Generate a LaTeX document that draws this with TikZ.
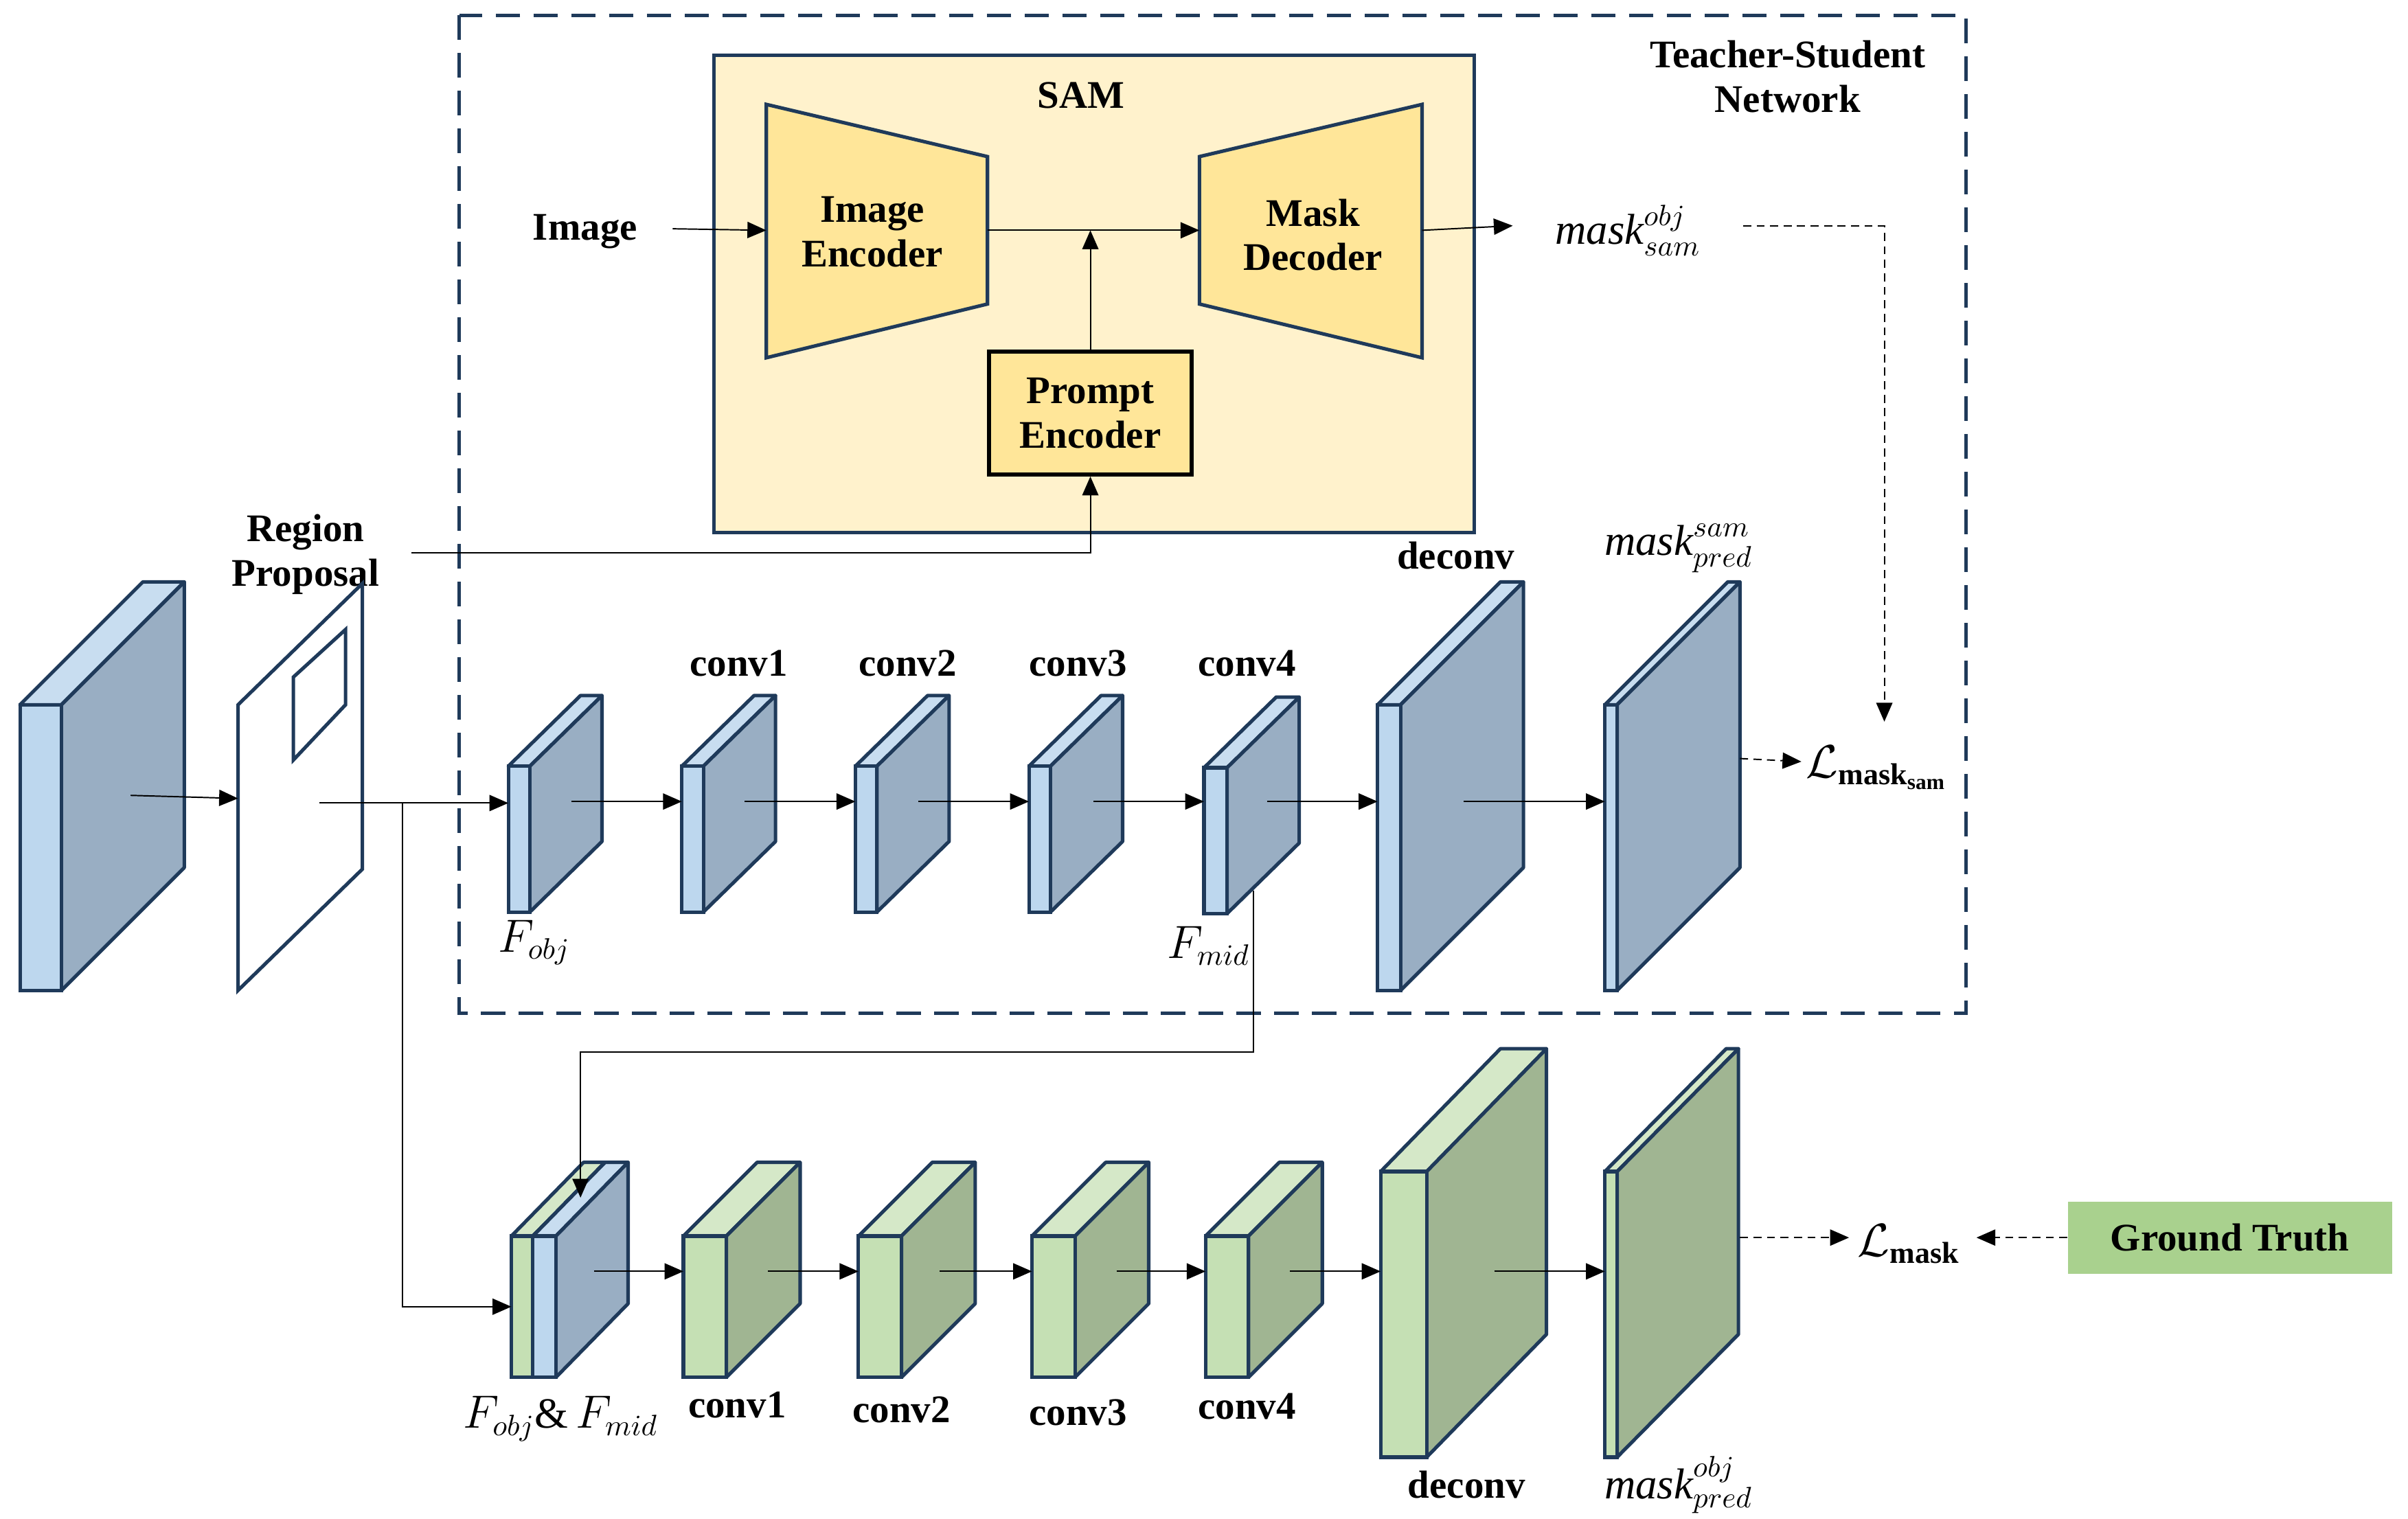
\documentclass[tikz,border=0pt]{standalone}
\usepackage{fontspec}
\setmainfont{Liberation Serif}
\usetikzlibrary{arrows.meta}
\definecolor{nv}{HTML}{1F3A5A}
\definecolor{bF}{HTML}{BDD7EE}\definecolor{bT}{HTML}{C8DDF0}\definecolor{bS}{HTML}{99AEC3}
\definecolor{gF}{HTML}{C5E0B4}\definecolor{gT}{HTML}{D5E8C8}\definecolor{gS}{HTML}{A0B592}
\definecolor{samF}{HTML}{FFF2CC}\definecolor{encF}{HTML}{FFE699}\definecolor{gtF}{HTML}{A9D18E}
\newcommand\myslab[9]{%
 \draw[nv,line width=1.3pt,fill=#8,line join=round] (#1,#2)--(#1+#3,#2)--(#1+#3+#5,#2-#6)--(#1+#5,#2-#6)--cycle;
 \draw[nv,line width=1.3pt,fill=#9,line join=round] (#1+#3,#2)--(#1+#3+#5,#2-#6)--(#1+#3+#5,#2+#4-#6)--(#1+#3,#2+#4)--cycle;
 \draw[nv,line width=1.3pt,fill=#7] (#1,#2) rectangle (#1+#3,#2+#4);}
\tikzset{
 lbl/.style={font=\fontsize{14.5}{16.5}\selectfont\bfseries,align=center},
 ml/.style={font=\fontsize{16}{18}\selectfont},
 tarr/.style={-{Triangle[length=7pt,width=6pt]},line width=0.5pt},
}
\begin{document}
\begin{tikzpicture}[x=0.02cm,y=-0.02cm]
\useasboundingbox (0,0) rectangle (1568,989);
% teacher dashed box
\draw[nv,line width=1.3pt,dash pattern=on 9pt off 5pt] (299,10) rectangle (1280,660);
\node[lbl] (ts) at (1164,50) {Teacher-Student\\Network};
% SAM
\draw[nv,line width=1.3pt,fill=samF] (465,36) rectangle (960,347);
\node[lbl] (sam) at (704,62) {SAM};
\draw[nv,line width=1.3pt,fill=encF] (499,68)--(643,102)--(643,198)--(499,233)--cycle;
\draw[nv,line width=1.3pt,fill=encF] (781,102)--(926,68)--(926,233)--(781,198)--cycle;
\node[lbl] (ie) at (568,151) {Image\\Encoder};
\node[lbl] (md) at (855,153) {Mask\\Decoder};
\node[lbl,draw=black,line width=1.5pt,fill=encF,minimum width=132*0.02cm,minimum height=80*0.02cm,inner sep=1pt] (pe) at (710,269) {Prompt\\Encoder};
\node[lbl] (img) at (381,151) {Image};
\node[ml] (ms) at (1060,150) {$\mathit{mask}^{obj}_{sam}$};
\coordinate (ieL) at (499,150);\coordinate (ieR) at (643,150);\coordinate (mdL) at (781,150);\coordinate (mdR) at (926,150);
\coordinate (pj) at (710,150);
\draw[tarr] (438,149) -- (ieL);
\draw[tarr] (ieR) -- (mdL);
\draw[tarr] (pe.north) -- (pj);
\draw[tarr] (mdR) -- (985,147);
\draw[tarr] (268,360) -| (pe.south);
\node[lbl] (rp) at (199,361) {Region\\Proposal};
% first block & region
\myslab{13}{459}{27}{186}{80}{80}{bF}{bT}{bS}
\draw[nv,line width=1.3pt] (155,459)--(236,380)--(236,566)--(155,645)--cycle;
\draw[nv,line width=1.3pt] (191,441)--(225,410)--(225,459)--(191,495)--cycle;
% teacher slabs
\myslab{331}{499}{14}{95}{47}{46}{bF}{bT}{bS}
\myslab{444}{499}{14}{95}{47}{46}{bF}{bT}{bS}
\myslab{557}{499}{14}{95}{47}{46}{bF}{bT}{bS}
\myslab{670}{499}{14}{95}{47}{46}{bF}{bT}{bS}
\myslab{784}{500}{15}{95}{47}{46}{bF}{bT}{bS}
\myslab{897}{459}{15}{186}{80}{80}{bF}{bT}{bS}
\myslab{1045}{459}{8}{186}{80}{80}{bF}{bT}{bS}
\node[ml] (fo) at (348,614) {$F_{obj}$};
\node[ml] (fm) at (787,616) {$F_{mid}$};
\node[lbl] (c1) at (481,432) {conv1};
\node[lbl] (c2) at (591,432) {conv2};
\node[lbl] (c3) at (702,432) {conv3};
\node[lbl] (c4) at (812,432) {conv4};
\node[lbl] (dc) at (948,362) {deconv};
\node[ml] (mps) at (1093,357) {$\mathit{mask}^{sam}_{pred}$};
\node[ml] (ls) at (1222,500) {$\mathcal{L}_{\mathbf{mask}_{\mathbf{sam}}}$};
\coordinate (a0) at (85,518);\coordinate (a1) at (155,520);
\draw[tarr] (a0)--(a1);
\coordinate (r0) at (208,523);\coordinate (t0) at (331,523);\coordinate (br) at (262,523);
\draw[tarr] (r0)--(t0);
\foreach \s/\e in {372/444,485/557,598/670,712/784,825/897,953/1045}{
 \coordinate (s\s) at (\s,522); \coordinate (e\e) at (\e,522);
 \draw[tarr] (s\s)--(e\e);}
\coordinate (d0) at (1135,147);\coordinate (d1) at (1227,470);
\draw[tarr,dashed,dash pattern=on 3pt off 2pt] (d0) -| (d1);
\coordinate (d2) at (1133,494);\coordinate (d3) at (1173,496);
\draw[tarr,dashed,dash pattern=on 3pt off 2pt] (d2)--(d3);
% student
\myslab{333}{805}{14}{92}{47}{48}{gF}{gT}{gS}
\myslab{347}{805}{15}{92}{47}{48}{bF}{bT}{bS}
\foreach \x in {445,559,672,785}{\myslab{\x}{805}{28}{92}{48}{48}{gF}{gT}{gS}}
\myslab{899}{763}{30}{186}{78}{80}{gF}{gT}{gS}
\myslab{1045}{763}{8}{186}{79}{80}{gF}{gT}{gS}
\coordinate (b1) at (333,851);
\draw[tarr] (br) |- (b1);
\coordinate (m0) at (816,580);\coordinate (m1) at (378,780);
\draw[tarr] (m0) |- (816,685) -| (m1);
\foreach \s/\e in {387/445,500/559,612/672,727/785,840/899,973/1045}{
 \coordinate (u\s) at (\s,828); \coordinate (v\e) at (\e,828);
 \draw[tarr] (u\s)--(v\e);}
\node[ml] (fom) at (365,924) {$F_{obj}$\&\,$F_{mid}$};
\node[lbl] (sc1) at (480,915) {conv1};
\node[lbl] (sc2) at (587,918) {conv2};
\node[lbl] (sc3) at (702,920) {conv3};
\node[lbl] (sc4) at (812,916) {conv4};
\node[lbl] (sdc) at (955,967) {deconv};
\node[ml] (mpo) at (1093,967) {$\mathit{mask}^{obj}_{pred}$};
\node[ml] (lm) at (1243,810) {$\mathcal{L}_{\mathbf{mask}}$};
\node[lbl,fill=gtF,minimum width=211*0.02cm,minimum height=47*0.02cm] (gt) at (1452,806) {Ground Truth};
\coordinate (g0) at (1133,806);\coordinate (g1) at (1204,806);\coordinate (g2) at (1287,806);
\draw[tarr,dashed,dash pattern=on 3pt off 2pt] (g0)--(g1);
\draw[tarr,dashed,dash pattern=on 3pt off 2pt] (gt.west)--(g2);
\end{tikzpicture}
\end{document}
